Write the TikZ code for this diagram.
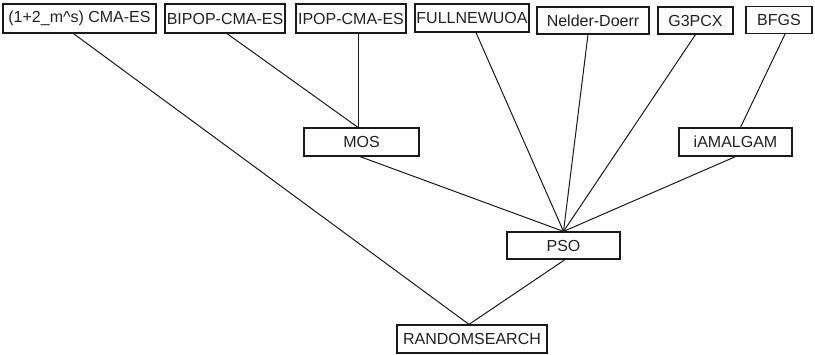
\documentclass[tikz,border=0pt]{standalone}
\usepackage{fontspec}
\setmainfont{Liberation Sans}
\definecolor{txt}{HTML}{222222}
\definecolor{edge}{HTML}{1A1A1A}
\begin{document}
\begin{tikzpicture}[x=1pt,y=-1pt,
  box/.style={draw=edge,line width=1.2pt,rectangle,inner sep=0pt,text=txt,
    font=\fontsize{16}{19}\selectfont,minimum height=28pt},
  conn/.style={draw=edge,line width=1pt}]
\useasboundingbox (0,0) rectangle (815,354);
\node[box,minimum width=153pt,minimum height=29pt] (cma) at (79.5,18.5) {(1+2\_m\textasciicircum s) CMA-ES};
\node[box,minimum width=120pt,minimum height=29pt] (bipop) at (225,18.5) {BIPOP-CMA-ES};
\node[box,minimum width=110pt,minimum height=29pt] (ipop) at (351,18.5) {IPOP-CMA-ES};
\node[box,minimum width=114pt,minimum height=28pt] (fnu) at (472,18) {FULLNEWUOA};
\node[box,minimum width=112pt,minimum height=27pt] (nd) at (593,20.5) {Nelder-Doerr};
\node[box,minimum width=75pt,minimum height=27pt] (g3) at (695.5,20.5) {G3PCX};
\node[box,minimum width=66pt,minimum height=27pt] (bfgs) at (779,20) {BFGS};
\node[box,minimum width=115pt] (mos) at (361.5,142) {MOS};
\node[box,minimum width=113pt] (iam) at (735.5,142) {iAMALGAM};
\node[box,minimum width=113pt,minimum height=27pt] (pso) at (563.5,245.5) {PSO};
\node[box,minimum width=150pt] (rs) at (472,339) {RANDOMSEARCH};
\coordinate (mosin) at ([xshift=-3.5pt]mos.north);
\coordinate (psoin) at (pso.north);
\coordinate (rsin) at ([xshift=-3pt]rs.north);
\draw[conn] ([xshift=-6pt]cma.south) -- (rsin);
\draw[conn] ([xshift=2pt]bipop.south) -- (mosin);
\draw[conn] (mosin) -- (mosin |- ipop.south);
\draw[conn] ([xshift=-1.5pt]mos.south) -- (psoin);
\draw[conn] ([xshift=4pt]fnu.south) -- (psoin);
\draw[conn] ([xshift=-5pt]nd.south) -- (psoin);
\draw[conn] (g3.south) -- (psoin);
\draw[conn] ([xshift=6pt]bfgs.south) -- ([xshift=5pt]iam.north);
\draw[conn] (iam.south) -- (psoin);
\draw[conn] ([xshift=1.5pt]pso.south) -- (rsin);
\end{tikzpicture}
\end{document}
